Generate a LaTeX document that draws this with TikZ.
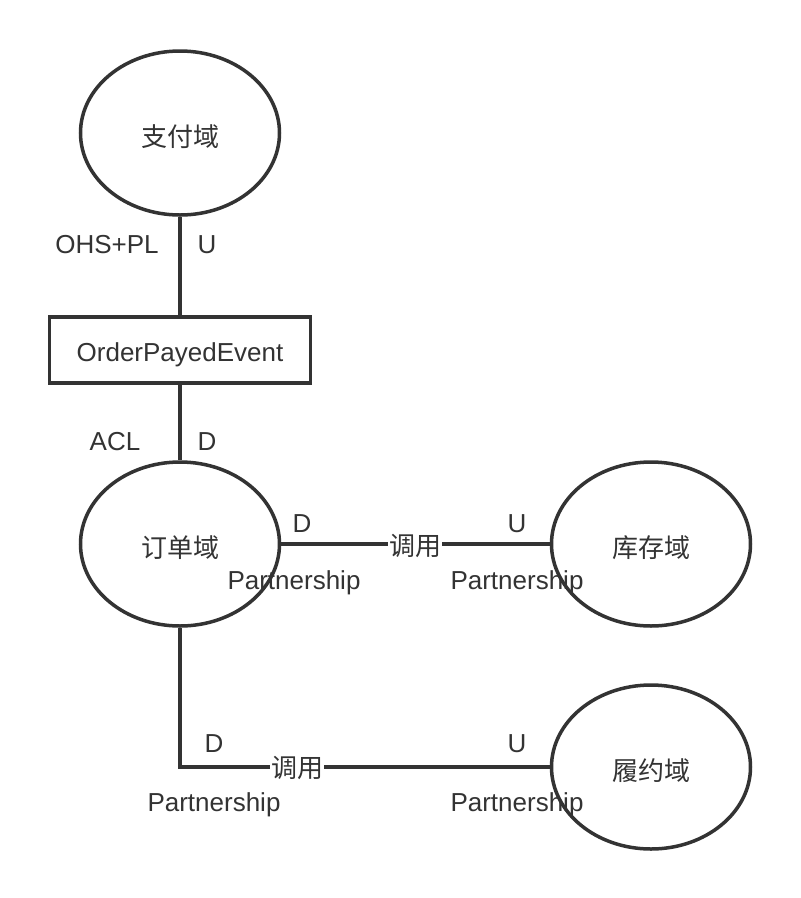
\documentclass[tikz,border=0pt]{standalone}
\usepackage{fontspec}
\setmainfont{Liberation Sans}
\newfontfamily\cjk{Noto Sans CJK SC}
\usetikzlibrary{shapes.geometric}
\definecolor{ink}{HTML}{333333}
\begin{document}
\begin{tikzpicture}[x=1pt,y=-1pt,
  every node/.style={text=ink,font=\fontsize{26}{30}\selectfont},
  domainnode/.style={draw=ink,line width=3.5pt,ellipse,minimum width=199pt,minimum height=164pt,inner sep=0pt,text height=27pt,text depth=0pt,font=\cjk\fontsize{26}{30}\selectfont},
  eventbox/.style={draw=ink,line width=3.5pt,rectangle,minimum width=261pt,minimum height=66pt,inner sep=0pt,text height=23pt,text depth=0pt},
  link/.style={draw=ink,line width=3.5pt},
  tag/.style={inner sep=0pt,yshift=-3pt},
  verb/.style={fill=white,inner sep=1pt,font=\cjk\fontsize{26}{30}\selectfont}]
\useasboundingbox (0,0) rectangle (801,898);
\fill[white] (0,0) rectangle (801,898);
% nodes
\node[domainnode] (pay) at (180,133) {支付域};
\node[eventbox] (evt) at (180,350) {OrderPayedEvent};
\node[domainnode] (ord) at (180,544) {订单域};
\node[domainnode] (inv) at (651,544) {库存域};
\node[domainnode] (ful) at (651,767) {履约域};
% connectors
\draw[link] (pay.south) -- (evt.north);
\draw[link] (evt.south) -- (ord.north);
\draw[link] (ord.east) -- (inv.west);
\draw[link] (ord.south) |- (ful.west);
% verb labels
\node[verb] (call1) at (415,546) {调用};
\node[verb] (call2) at (297,768) {调用};
% relation tags
\node[tag] (t1) at (107,242) {OHS+PL};
\node[tag] (t2) at (207,242) {U};
\node[tag] (t3) at (115,439) {ACL};
\node[tag] (t4) at (207,439) {D};
\node[tag] (t5) at (302,521) {D};
\node[tag] (t6) at (517,521) {U};
\node[tag] (t7) at (294,580) {Partnership};
\node[tag] (t8) at (517,580) {Partnership};
\node[tag] (t9) at (214,741) {D};
\node[tag] (t10) at (517,741) {U};
\node[tag] (t11) at (214,802) {Partnership};
\node[tag] (t12) at (517,802) {Partnership};
\end{tikzpicture}
\end{document}
